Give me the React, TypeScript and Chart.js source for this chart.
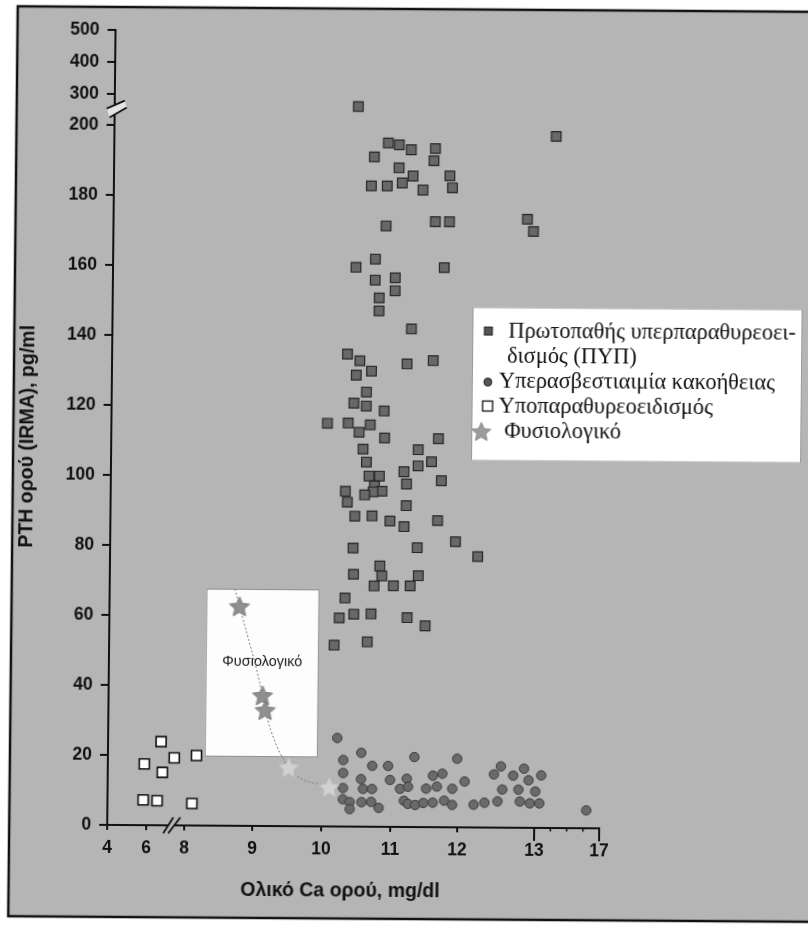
import React, { useEffect, useRef } from 'react';
import { Chart, LinearScale, registerables } from 'chart.js';

Chart.register(...registerables);

// ---------------- data (x = total serum Ca mg/dl, y = PTH pg/ml) ----------------
const primaryHyperparathyroidism: number[][] = [
  [10.43, 265], [10.87, 195.4], [11.03, 194.9], [11.21, 193.5], [11.57, 193.9], [11.55, 190.4],
  [10.67, 191.4], [11.03, 188.3], [11.24, 186], [11.08, 184], [10.63, 183.1], [10.86, 183.1],
  [11.39, 182], [11.79, 186.1], [11.83, 182.7], [13.91, 197.6], [10.85, 171.7], [11.58, 173],
  [11.79, 173], [12.83, 173.9], [12.91, 170.4], [10.7, 162.2], [10.42, 159.8], [11.72, 159.9],
  [10.7, 156.2], [10.99, 156.9], [10.99, 153.2], [10.76, 151.1], [10.76, 147.4], [11.24, 142.3],
  [10.31, 135], [10.49, 133.1], [10.44, 129], [10.66, 130.2], [11.18, 132.3], [11.57, 133.3],
  [10.59, 124.2], [10.41, 121], [10.59, 120.2], [10.85, 118.8], [10.03, 115.2], [10.33, 115.3],
  [10.65, 114.8], [10.49, 112.7], [10.86, 111.1], [11.66, 111], [10.55, 107.9], [11.36, 107.8],
  [10.6, 104.2], [11.36, 103.2], [11.56, 104.4], [10.64, 100.2], [10.79, 100.2], [10.72, 97.4],
  [10.83, 95.9], [10.7, 95.7], [11.15, 101.5], [11.19, 98], [11.71, 99], [10.3, 95.8],
  [10.33, 92.7], [10.58, 94.8], [10.44, 88.7], [10.69, 88.8], [10.95, 87.4], [11.16, 85.8],
  [11.19, 91.8], [11.66, 87.6], [11.93, 81.6], [12.23, 77.4], [10.42, 79.6], [11.36, 79.8],
  [10.81, 74.5], [10.84, 71.7], [10.43, 72.1], [11.38, 71.8], [10.73, 68.8], [11.01, 68.9],
  [11.26, 68.9], [10.31, 65.3], [10.23, 59.6], [10.44, 60.7], [10.69, 60.8], [11.22, 59.8],
  [11.49, 57.5], [10.16, 51.8], [10.64, 52.8],
];

const malignancyHypercalcemia: number[][] = [
  [10.22, 25.3], [10.31, 19], [10.57, 21.1], [10.73, 17.4], [10.96, 17.4], [11.35, 20],
  [11.99, 19.6], [10.31, 15.3], [10.57, 13.6], [10.99, 13.4], [11.24, 13.8], [11.63, 14.7],
  [11.77, 15.3], [12.09, 13.1], [10.31, 11], [10.6, 10.8], [10.73, 10.8], [11.14, 10.9],
  [11.26, 11.5], [11.53, 11], [11.69, 11.6], [11.92, 11], [10.31, 7.8], [10.41, 7],
  [10.41, 5], [10.58, 7], [10.72, 7.1], [10.83, 5.4], [11.2, 7.5], [11.26, 6.6],
  [11.37, 6.3], [11.49, 6.9], [11.63, 7], [11.8, 7.6], [11.92, 6.4], [12.21, 6.5],
  [12.35, 7.1], [12.52, 7.5], [12.47, 15.2], [12.56, 17.5], [12.72, 14.9], [12.86, 16.9],
  [13.4, 15], [12.92, 13.6], [12.58, 10.9], [12.79, 10.9], [13.04, 10.4], [12.81, 7.5],
  [12.94, 7], [13.3, 7], [16.19, 5.1],
];

const hypoparathyroidism: number[][] = [
  [5.87, 17.5], [6.74, 23.9], [6.82, 15.1], [7.44, 19.3], [8.17, 20], [5.83, 7.2], [6.56, 7], [8.11, 6.3],
];

const normalSubjects: number[][] = [[8.78, 62.7], [9.13, 37.3], [9.17, 33.1], [9.52, 16.8], [10.11, 11.2]];
const normalSubjectsPale = [false, false, false, true, true];
const normalCurve: number[][] = [[8.71, 67.7], [8.78, 62.7], [9.13, 37.3], [9.17, 33.1], [9.52, 16.8], [10.11, 11.2]];

const normalRangeX = [8.29, 9.94];
const normalRangeY = [19.7, 67.7];
const normalRangeLabelY = 47;

const xTickValues = [4, 6, 8, 9, 10, 11, 12, 13, 17];
const xMinorTickValues = [14, 15, 16];
const xLongTickValues = [13, 17];
const yTickValues = [0, 20, 40, 60, 80, 100, 120, 140, 160, 180, 200, 300, 400, 500];
const xBreakAt = 7.32;
const yBreakAt = 253;

const seriesLabels = [
  'Πρωτοπαθής υπερπαραθυρεοειδισμός (ΠΥΠ)',
  'Υπερασβεστιαιμία κακοήθειας',
  'Υποπαραθυρεοειδισμός',
  'Φυσιολογικό',
];
const legendLines = [
  ['Πρωτοπαθής υπερπαραθυρεοει-', 'δισμός (ΠΥΠ)'],
  ['Υπερασβεστιαιμία κακοήθειας'],
  ['Υποπαραθυρεοειδισμός'],
  ['Φυσιολογικό'],
];
const xTitle = 'Ολικό Ca ορού, mg/dl';
const yTitle = 'PTH ορού (IRMA), pg/ml';
const normalBoxLabel = 'Φυσιολογικό';

// ---------------- broken-axis scale definition (relative spacing of the printed axes) ----------------
const xAxisKnotValues = [4, 6, 8, 9, 10, 11, 12, 13, 17];
const xAxisKnotSpacing = [0, 39, 77, 145, 214, 283, 350, 427, 492];
const yAxisKnotValues = [0, 200, 300, 400, 500];
const yAxisKnotSpacing = [0, 700, 731, 763, 795];

const KNOTS: Record<string, { values: number[]; fracs: number[] }> = {
  x: { values: xAxisKnotValues, fracs: xAxisKnotSpacing.map((p) => p / xAxisKnotSpacing[xAxisKnotSpacing.length - 1]) },
  y: { values: yAxisKnotValues, fracs: yAxisKnotSpacing.map((p) => p / yAxisKnotSpacing[yAxisKnotSpacing.length - 1]) },
};

function interp(v: number, xs: number[], ys: number[]) {
  const n = xs.length;
  let i = 0;
  while (i < n - 2 && v > xs[i + 1]) i++;
  const t = (v - xs[i]) / (xs[i + 1] - xs[i]);
  return ys[i] + t * (ys[i + 1] - ys[i]);
}

class BrokenAxisScale extends LinearScale {
  static id = 'brokenAxis';
  getPixelForValue(value: any) {
    if (value === null || value === undefined || isNaN(value)) return NaN;
    const k = KNOTS[(this as any).id];
    return (this as any).getPixelForDecimal(interp(+value, k.values, k.fracs));
  }
  getValueForPixel(pixel: number) {
    const k = KNOTS[(this as any).id];
    return interp((this as any).getDecimalForPixel(pixel), k.fracs, k.values);
  }
}
Chart.register(BrokenAxisScale as any);

// ---------------- styles ----------------
const FONT_SANS = '"Liberation Sans", Arial, Helvetica, sans-serif';
const FONT_SERIF = '"Liberation Serif", "Times New Roman", serif';
const BG_GRAY = '#b5b5b5';
const INK = '#111111';
const CANVAS_W = 824;
const CANVAS_H = 928;

function makeStar(size: number, fill: string, stroke: string) {
  const c = document.createElement('canvas');
  c.width = size;
  c.height = size;
  const g = c.getContext('2d')!;
  const cx = size / 2;
  const cy = size / 2 + size * 0.04;
  const R = size / 2 - 1;
  const r = R * 0.47;
  g.beginPath();
  for (let i = 0; i < 10; i++) {
    const a = -Math.PI / 2 + (i * Math.PI) / 5;
    const rad = i % 2 === 0 ? R : r;
    g.lineTo(cx + rad * Math.cos(a), cy + rad * Math.sin(a));
  }
  g.closePath();
  g.fillStyle = fill;
  g.fill();
  g.lineWidth = 1;
  g.strokeStyle = stroke;
  g.stroke();
  return c;
}

const decorPlugin = {
  id: 'decor',
  beforeDraw(chart: any) {
    const { ctx, width, height } = chart;
    ctx.save();
    ctx.fillStyle = '#ffffff';
    ctx.fillRect(0, 0, width, height);
    ctx.fillStyle = BG_GRAY;
    ctx.fillRect(13, 9, width - 13, 919 - 9);
    ctx.strokeStyle = INK;
    ctx.lineWidth = 2.5;
    ctx.beginPath();
    ctx.moveTo(width, 9);
    ctx.lineTo(13, 9);
    ctx.lineTo(13, 919);
    ctx.lineTo(width, 919);
    ctx.stroke();
    ctx.restore();
  },
  beforeDatasetsDraw(chart: any) {
    const { ctx } = chart;
    const { x, y } = chart.scales;
    const l = x.getPixelForValue(normalRangeX[0]);
    const r = x.getPixelForValue(normalRangeX[1]);
    const t = y.getPixelForValue(normalRangeY[1]);
    const b = y.getPixelForValue(normalRangeY[0]);
    ctx.save();
    ctx.fillStyle = '#fdfdfd';
    ctx.fillRect(l, t, r - l, b - t);
    ctx.strokeStyle = '#8c8c8c';
    ctx.lineWidth = 1;
    ctx.strokeRect(l + 0.5, t + 0.5, r - l - 1, b - t - 1);
    ctx.fillStyle = '#1a1a1a';
    ctx.font = `14.5px ${FONT_SANS}`;
    ctx.textAlign = 'center';
    ctx.textBaseline = 'middle';
    ctx.fillText(normalBoxLabel, (l + r) / 2, y.getPixelForValue(normalRangeLabelY));
    ctx.restore();
  },
  afterDraw(chart: any) {
    const { ctx, chartArea } = chart;
    const { x, y } = chart.scales;
    const bottom = chartArea.bottom;
    const left = chartArea.left;
    ctx.save();

    // extra ticks on x axis
    ctx.strokeStyle = INK;
    ctx.lineWidth = 2;
    for (const v of xLongTickValues) {
      const px = x.getPixelForValue(v);
      ctx.beginPath();
      ctx.moveTo(px, bottom);
      ctx.lineTo(px, bottom + 13);
      ctx.stroke();
    }
    ctx.lineWidth = 1.5;
    for (const v of xMinorTickValues) {
      const px = x.getPixelForValue(v);
      ctx.beginPath();
      ctx.moveTo(px, bottom);
      ctx.lineTo(px, bottom + 3.5);
      ctx.stroke();
    }

    // y axis break
    const by = y.getPixelForValue(yBreakAt);
    const bx = left;
    ctx.fillStyle = '#e4e4e4';
    ctx.beginPath();
    ctx.moveTo(bx - 8, by);
    ctx.lineTo(bx + 10, by - 8);
    ctx.lineTo(bx + 12, by - 1);
    ctx.lineTo(bx - 5, by + 9);
    ctx.closePath();
    ctx.fill();
    ctx.strokeStyle = INK;
    ctx.lineWidth = 1.8;
    ctx.beginPath();
    ctx.moveTo(bx - 8, by);
    ctx.lineTo(bx + 10, by - 8);
    ctx.moveTo(bx - 5, by + 9);
    ctx.lineTo(bx + 12, by - 1);
    ctx.stroke();

    // x axis break
    const xb = x.getPixelForValue(xBreakAt);
    ctx.fillStyle = BG_GRAY;
    ctx.beginPath();
    ctx.moveTo(xb - 8, bottom + 8);
    ctx.lineTo(xb + 2, bottom - 8);
    ctx.lineTo(xb + 9, bottom - 8);
    ctx.lineTo(xb - 3, bottom + 8);
    ctx.closePath();
    ctx.fill();
    ctx.beginPath();
    ctx.moveTo(xb - 8, bottom + 8);
    ctx.lineTo(xb + 2, bottom - 8);
    ctx.moveTo(xb - 3, bottom + 8);
    ctx.lineTo(xb + 9, bottom - 8);
    ctx.stroke();

    // axis titles
    ctx.fillStyle = INK;
    ctx.font = `bold 19.5px ${FONT_SANS}`;
    ctx.textAlign = 'center';
    ctx.textBaseline = 'middle';
    ctx.fillText(xTitle, 344.5, 892);
    ctx.save();
    ctx.translate(27.7, 439);
    ctx.rotate(-Math.PI / 2);
    ctx.fillText(yTitle, 0, 0);
    ctx.restore();

    // legend
    const lx = 471, ly = 306.5, lw = 330, lh = 154;
    ctx.fillStyle = '#ffffff';
    ctx.fillRect(lx, ly, lw, lh);
    ctx.strokeStyle = '#9a9a9a';
    ctx.lineWidth = 1;
    ctx.strokeRect(lx + 0.5, ly + 0.5, lw - 1, lh - 1);

    // markers
    ctx.fillStyle = '#555555';
    ctx.strokeStyle = '#222222';
    ctx.lineWidth = 1;
    ctx.fillRect(483, 326.5, 8, 8);
    ctx.strokeRect(483, 326.5, 8, 8);
    ctx.beginPath();
    ctx.arc(487, 381.5, 4, 0, Math.PI * 2);
    ctx.fill();
    ctx.stroke();
    ctx.fillStyle = '#ffffff';
    ctx.strokeStyle = INK;
    ctx.lineWidth = 1.3;
    ctx.fillRect(482, 400.5, 10, 10);
    ctx.strokeRect(482, 400.5, 10, 10);
    const ls = (chart as any)._legendStar as HTMLCanvasElement;
    if (ls) ctx.drawImage(ls, 481 - ls.width / 2, 431 - ls.height / 2);

    ctx.fillStyle = INK;
    ctx.font = `22.4px ${FONT_SERIF}`;
    ctx.textAlign = 'left';
    ctx.textBaseline = 'middle';
    ctx.fillText(legendLines[0][0], 507, 331);
    ctx.fillText(legendLines[0][1], 506, 356);
    ctx.fillText(legendLines[1][0], 498, 381.5);
    ctx.fillText(legendLines[2][0], 498, 406);
    ctx.fillText(legendLines[3][0], 504, 431);

    ctx.restore();
  },
};

export default function App() {
  const ref = useRef<HTMLCanvasElement>(null);

  useEffect(() => {
    const canvas = ref.current!;
    const starDark = makeStar(23, '#8f8f8f', '#777777');
    const starPale = makeStar(23, '#d2d2d2', '#c4c4c4');
    const legendStar = makeStar(22, '#9c9c9c', '#8a8a8a');
    const toXY = (arr: number[][]) => arr.map(([x, y]) => ({ x, y }));

    const tickFont = { family: FONT_SANS, size: 17.5, weight: 'bold' as const };

    const chart = new Chart(canvas, {
      type: 'scatter',
      data: {
        datasets: [
          {
            label: seriesLabels[3] + ' (καμπύλη)',
            data: toXY(normalCurve),
            showLine: true,
            borderColor: '#7a7a7a',
            borderWidth: 1,
            borderDash: [2, 2],
            pointRadius: 0,
            cubicInterpolationMode: 'monotone',
            order: 5,
          } as any,
          {
            label: seriesLabels[0],
            data: toXY(primaryHyperparathyroidism),
            pointStyle: 'rect',
            pointRadius: 6.8,
            backgroundColor: '#686868',
            borderColor: '#262626',
            borderWidth: 1.2,
            order: 2,
          },
          {
            label: seriesLabels[1],
            data: toXY(malignancyHypercalcemia),
            pointStyle: 'circle',
            pointRadius: 4.7,
            backgroundColor: '#6a6a6a',
            borderColor: '#3a3a3a',
            borderWidth: 1,
            order: 3,
          },
          {
            label: seriesLabels[2],
            data: toXY(hypoparathyroidism),
            pointStyle: 'rect',
            pointRadius: 7.1,
            backgroundColor: '#ffffff',
            borderColor: INK,
            borderWidth: 1.6,
            order: 4,
          },
          {
            label: seriesLabels[3],
            data: toXY(normalSubjects),
            pointStyle: normalSubjectsPale.map((p) => (p ? starPale : starDark)) as any,
            pointRadius: 11,
            order: 1,
          },
        ],
      },
      options: {
        responsive: false,
        animation: false,
        devicePixelRatio: 1,
        events: [],
        layout: { padding: { top: 32, right: CANVAS_W - 603, bottom: 0, left: 0 } },
        plugins: { legend: { display: false }, tooltip: { enabled: false }, title: { display: false } },
        scales: {
          x: {
            type: 'brokenAxis' as any,
            position: 'bottom',
            min: 4,
            max: 17,
            afterBuildTicks: (s: any) => {
              s.ticks = xTickValues.map((v) => ({ value: v }));
            },
            afterFit: (s: any) => {
              s.height = CANVAS_H - 827;
            },
            grid: { drawOnChartArea: false, drawTicks: true, tickLength: 5, color: INK, lineWidth: 2 },
            border: { display: true, color: INK, width: 2 },
            ticks: { color: INK, font: tickFont, padding: 8, maxRotation: 0, autoSkip: false, callback: (v: any) => String(v) },
          } as any,
          y: {
            type: 'brokenAxis' as any,
            position: 'left',
            min: 0,
            max: 500,
            afterBuildTicks: (s: any) => {
              s.ticks = yTickValues.map((v) => ({ value: v }));
            },
            afterFit: (s: any) => {
              s.width = 111;
            },
            grid: { drawOnChartArea: false, drawTicks: true, tickLength: 8, color: INK, lineWidth: 2 },
            border: { display: true, color: INK, width: 2 },
            ticks: { color: INK, font: tickFont, padding: 8, autoSkip: false, callback: (v: any) => String(v) },
          } as any,
        },
      },
      plugins: [decorPlugin as any],
    } as any);
    (chart as any)._legendStar = legendStar;
    chart.draw();

    return () => chart.destroy();
  }, []);

  return (
    <div style={{ position: 'absolute', left: 0, top: 0, width: 808, height: 928, overflow: 'hidden', background: '#fff' }}>
      <canvas
        ref={ref}
        width={CANVAS_W}
        height={CANVAS_H}
        style={{
          position: 'absolute',
          left: 0,
          top: 0,
          width: CANVAS_W,
          height: CANVAS_H,
          transform: 'skew(-0.6deg, 0.4deg)',
          transformOrigin: '404px 464px',
        }}
      />
    </div>
  );
}
